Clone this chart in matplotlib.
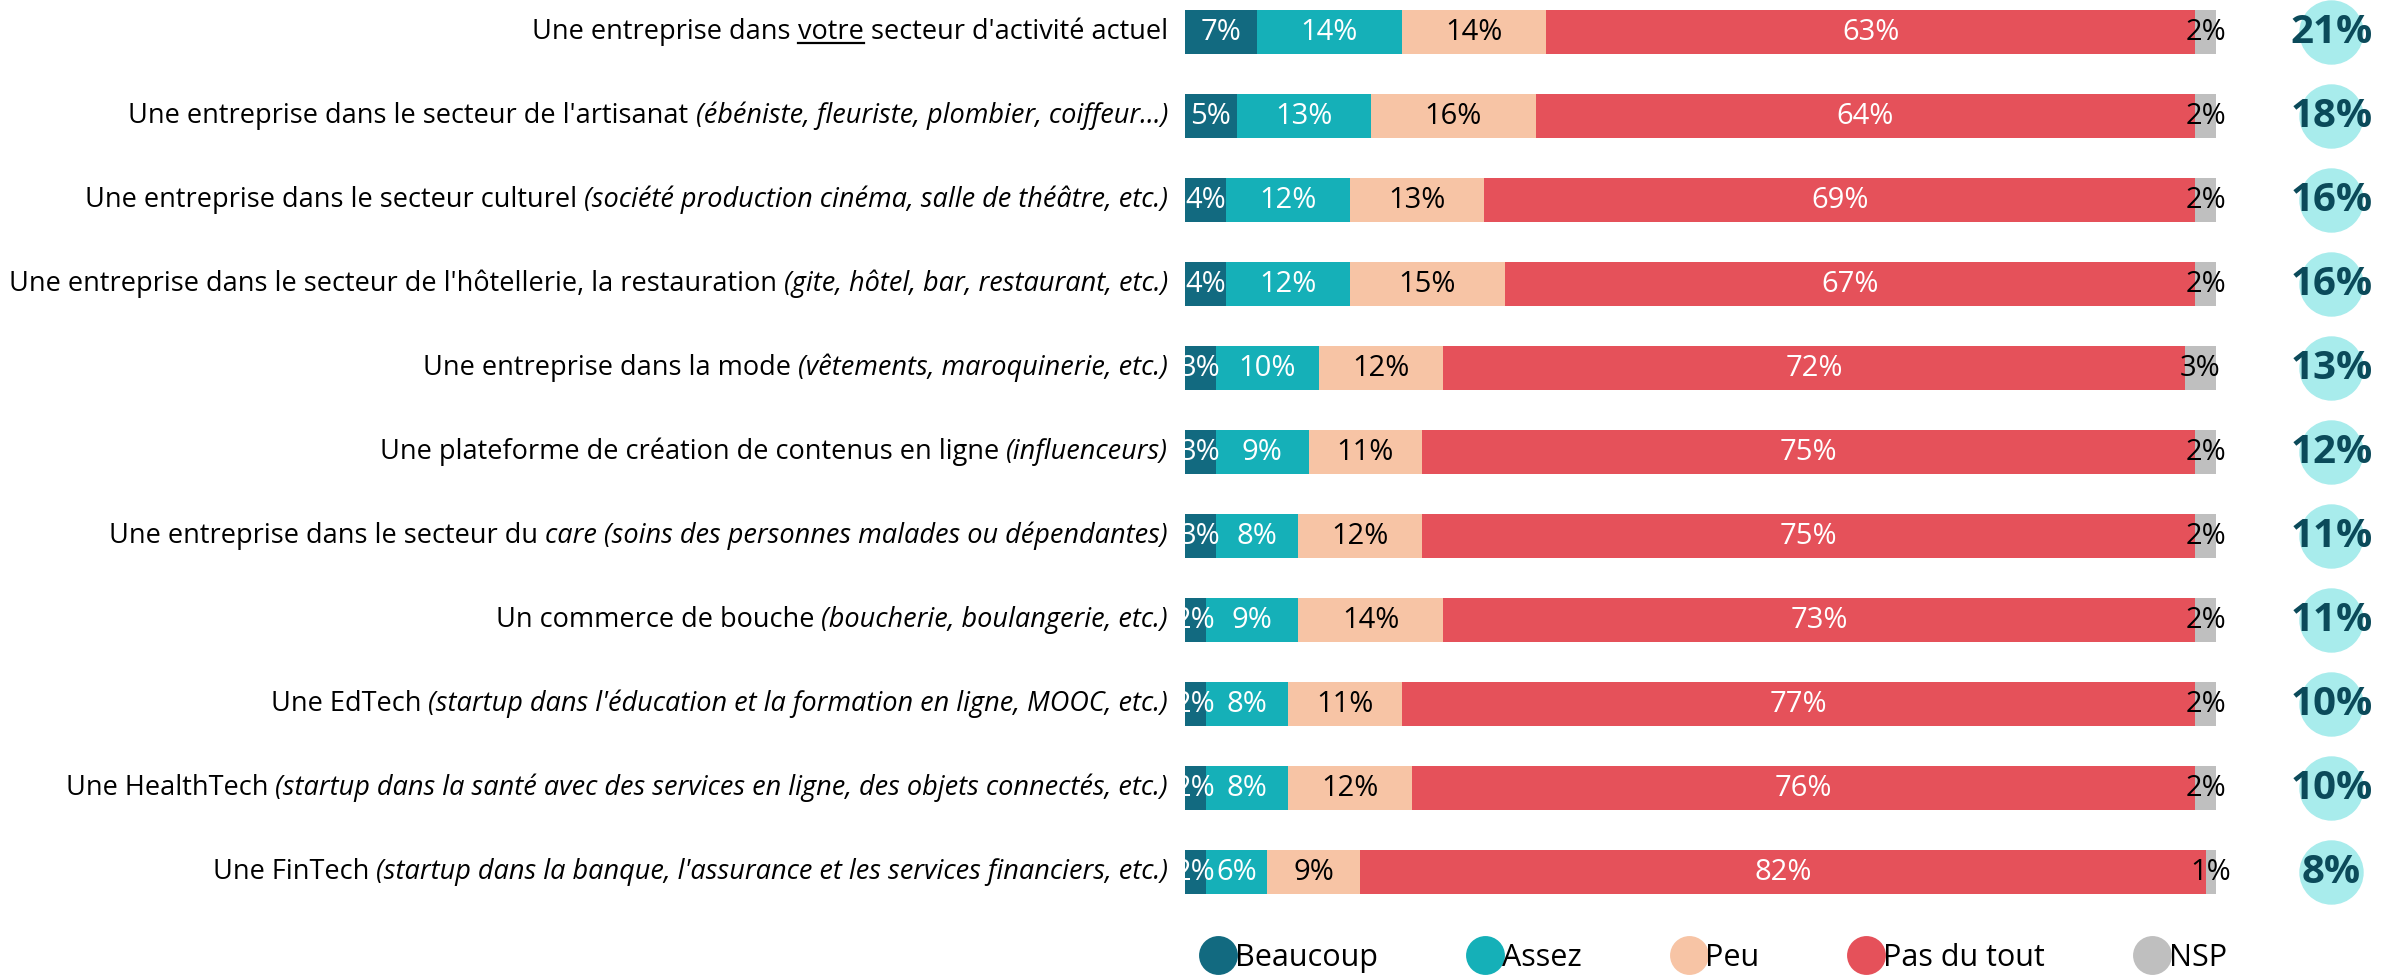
import matplotlib.pyplot as plt
from matplotlib.lines import Line2D

plt.rcParams['font.family'] = ['Open Sans', 'DejaVu Sans']

# data
normal_parts = [
    "Une entreprise dans ",
    "Une entreprise dans le secteur de l'artisanat ",
    "Une entreprise dans le secteur culturel ",
    "Une entreprise dans le secteur de l'hôtellerie, la restauration ",
    "Une entreprise dans la mode ",
    "Une plateforme de création de contenus en ligne ",
    "Une entreprise dans le secteur du ",
    "Un commerce de bouche ",
    "Une EdTech ",
    "Une HealthTech ",
    "Une FinTech ",
]
italic_parts = [
    "",
    "(ébéniste, fleuriste, plombier, coiffeur…)",
    "(société production cinéma, salle de théâtre, etc.)",
    "(gite, hôtel, bar, restaurant, etc.)",
    "(vêtements, maroquinerie, etc.)",
    "(influenceurs)",
    "care (soins des personnes malades ou dépendantes)",
    "(boucherie, boulangerie, etc.)",
    "(startup dans l'éducation et la formation en ligne, MOOC, etc.)",
    "(startup dans la santé avec des services en ligne, des objets connectés, etc.)",
    "(startup dans la banque, l'assurance et les services financiers, etc.)",
]

beaucoup = [7, 5, 4, 4, 3, 3, 3, 2, 2, 2, 2]
assez = [14, 13, 12, 12, 10, 9, 8, 9, 8, 8, 6]
peu = [14, 16, 13, 15, 12, 11, 12, 14, 11, 12, 9]
pas_du_tout = [63, 64, 69, 67, 72, 75, 75, 73, 77, 76, 82]
nsp = [2, 2, 2, 2, 3, 2, 2, 2, 2, 2, 1]

series_names = ['Beaucoup', 'Assez', 'Peu', 'Pas du tout', 'NSP']
colors = ['#126a80', '#15b0b8', '#f7c4a5', '#e5515a', '#bfbfbf']
text_colors = ['white', 'white', 'black', 'white', 'black']

W, H = 2394, 980
fig = plt.figure(figsize=(W / 100, H / 100), dpi=100)
ax = fig.add_axes([1185 / W, (H - 914) / H, 1031 / W, 924 / H])

series = [beaucoup, assez, peu, pas_du_tout, nsp]
n = len(beaucoup)
ys = list(range(n))
left = [0] * n
for vals, col, tcol in zip(series, colors, text_colors):
    ax.barh(ys, vals, left=left, height=0.53, color=col, edgecolor='none')
    for i in range(n):
        ax.text(left[i] + vals[i] / 2, i, f"{vals[i]}%", ha='center', va='center',
                color=tcol, fontsize=21)
    left = [l + v for l, v in zip(left, vals)]

# total beaucoup + assez in circles
for i in range(n):
    ax.scatter(111.2, i, s=2150, color='#a8ecec', clip_on=False, zorder=3, linewidths=0)
    ax.text(111.2, i, f"{beaucoup[i] + assez[i]}%", ha='center', va='center',
            color='#0b4a5a', fontsize=29, fontweight='bold', zorder=4)

ax.set_xlim(0, 100)
ax.set_ylim(n - 0.5, -0.5)
ax.axis('off')

# row labels with mixed styles
fig.canvas.draw()
renderer = fig.canvas.get_renderer()
label_fs = 19.5
right_px = 1168


def put(txt, x_right_px, y_px, style='normal'):
    t = fig.text(x_right_px / W, y_px / H, txt, ha='right', va='center',
                 fontsize=label_fs, style=style)
    bb = t.get_window_extent(renderer)
    return t, bb


for i in range(n):
    y_disp = ax.transData.transform((0, i))[1]
    x = right_px
    if i == 0:
        t, bb = put(" secteur d'activité actuel", x, y_disp)
        x = bb.x0
        t, bb = put("votre", x, y_disp)
        fig.add_artist(Line2D([bb.x0 / W, bb.x1 / W], [(bb.y0 + 3) / H] * 2,
                              transform=fig.transFigure, color='black', lw=1.6))
        x = bb.x0
        put(normal_parts[i], x, y_disp)
    else:
        t, bb = put(italic_parts[i], x, y_disp, style='italic')
        x = bb.x0
        put(normal_parts[i], x, y_disp)

handles = [Line2D([], [], marker='o', linestyle='', markersize=28, color=c,
                  markeredgewidth=0) for c in colors]
fig.legend(handles, series_names, loc='center', bbox_to_anchor=(1715 / W, 22 / H),
           ncol=5, frameon=False, fontsize=22, handletextpad=0.05, columnspacing=3.0,
           handlelength=1.0)

fig.savefig('out.png', dpi=100)
